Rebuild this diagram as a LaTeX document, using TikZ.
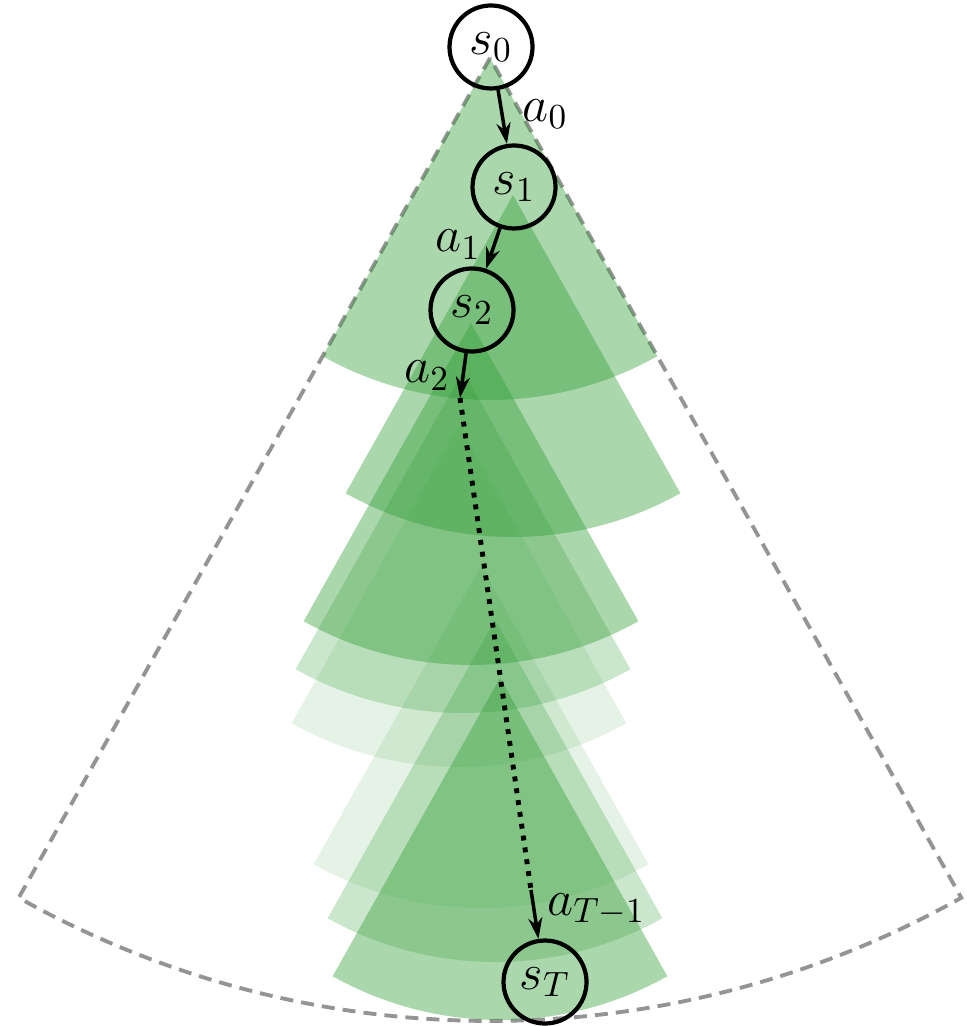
\documentclass[tikz,border=0pt]{standalone}
\usepackage{amsmath,amssymb}
\usepackage{tikz}
\usetikzlibrary{positioning,arrows.meta,calc}
\usepackage{xcolor}
\definecolor{fangreen}{RGB}{45,155,50}

\begin{document}
\begin{tikzpicture}[
  state/.style={draw, circle, line width=1.2pt, minimum size=8.3mm, inner sep=0pt, font=\Large},
  act/.style={-{Stealth[length=6pt, width=4pt]}, line width=1pt, font=\Large},
  fan/.style={fill=fangreen, draw=none},
  bound/.style={draw=black!42, line width=1.1pt, dash pattern=on 3.7pt off 2.3pt},
]
  \useasboundingbox (0,0) rectangle (9.66,-10.26);

  % reachable region
  \draw[bound] (4.90,-0.58) -- ++(-119.3:9.63)
    arc[start angle=-119.3, end angle=-60.7, radius=9.63] -- cycle;

  % action fans along the trajectory
  \foreach \x/\y/\o in {4.90/-0.58/0.4, 5.13/-1.95/0.4, 4.71/-3.23/0.4,
                        4.63/-3.71/0.25, 4.59/-4.25/0.12, 4.81/-5.66/0.12,
                        4.95/-6.20/0.25, 5.00/-6.78/0.4}
    \fill[fan, opacity=\o] (\x,\y) -- ++(-119.3:3.42)
      arc[start angle=-119.3, end angle=-60.7, radius=3.42] -- cycle;

  \node[state] (s0) at (4.91,-0.47) {$s_0$};
  \node[state] (s1) at (5.14,-1.87) {$s_1$};
  \node[state] (s2) at (4.72,-3.10) {$s_2$};
  \node[state] (sT) at (5.45,-9.82) {$s_T$};
  \coordinate (m2) at (4.60,-3.98);
  \coordinate (m3) at (5.31,-8.90);

  \draw[act] (s0) -- node[right=2pt, pos=0.45]{$a_0$} (s1);
  \draw[act] (s1) -- node[left=0pt, pos=0.4]{$a_1$} (s2);
  \draw[act] (s2) -- node[left=0pt]{$a_2$} (m2);
  \draw[line width=1.4pt, dotted] (m2) -- (m3);
  \draw[act] (m3) -- node[right=0pt, pos=0.4]{$a_{T-1}$} (sT);
\end{tikzpicture}
\end{document}
